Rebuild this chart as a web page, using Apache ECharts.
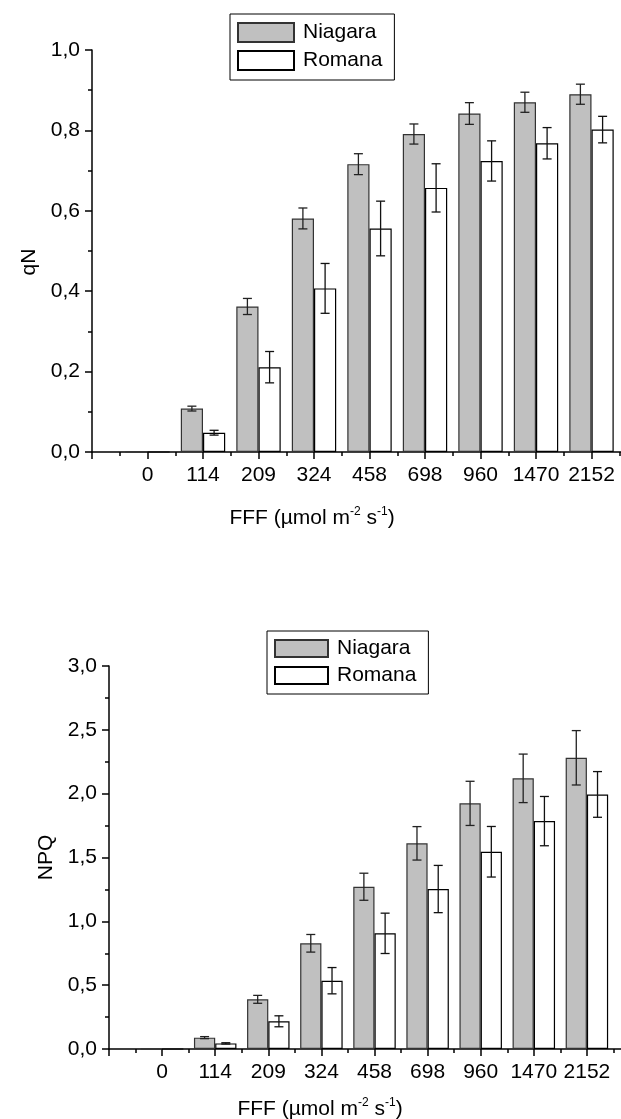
<!DOCTYPE html>
<html><head><meta charset="utf-8">
<script src="https://cdn.jsdelivr.net/npm/echarts@6/dist/echarts.min.js"></script>
<style>html,body{margin:0;padding:0;background:#fff}#c{width:621px;height:1119px}</style>
</head><body><div id="c"></div>
<script>
const categories = ['0','114','209','324','458','698','960','1470','2152'];
const seriesNames = ['Niagara','Romana'];
const qnNiagara    = [0, 0.108, 0.362, 0.581, 0.716, 0.791, 0.842, 0.870, 0.890];
const qnNiagaraErr = [0, 0.006, 0.020, 0.026, 0.026, 0.025, 0.027, 0.025, 0.025];
const qnRomana     = [0, 0.048, 0.211, 0.407, 0.556, 0.657, 0.724, 0.768, 0.802];
const qnRomanaErr  = [0, 0.006, 0.039, 0.062, 0.068, 0.060, 0.050, 0.039, 0.033];
const npqNiagara    = [0, 0.089, 0.389, 0.828, 1.271, 1.611, 1.924, 2.120, 2.281];
const npqNiagaraErr = [0, 0.008, 0.031, 0.069, 0.106, 0.131, 0.173, 0.190, 0.213];
const npqRomana     = [0, 0.044, 0.217, 0.535, 0.906, 1.253, 1.545, 1.785, 1.994];
const npqRomanaErr  = [0, 0.005, 0.043, 0.103, 0.158, 0.185, 0.198, 0.193, 0.179];
const qnAxis = {min: 0, max: 1.0, interval: 0.2};
const npqAxis = {min: 0, max: 3.0, interval: 0.5};
const qnName = 'qN';
const npqName = 'NPQ';

const FONT = 'Liberation Sans, Arial, sans-serif';
const chart = echarts.init(document.getElementById('c'), null, {renderer: 'canvas'});

function xAxisDef(gridIndex, padRight, gap) {
  return {
    type: 'value', gridIndex: gridIndex, min: -1, max: 9, interval: 1,
    name: '{t|FFF (µmol m}{s|-2}{t| s}{s|-1}{t|)}',
    nameLocation: 'middle', nameGap: gap,
    nameTextStyle: {
      padding: [0, padRight, 0, 0],
      rich: {
        t: {fontSize: 21, fontFamily: FONT, color: '#000', lineHeight: 24, verticalAlign: 'bottom'},
        s: {fontSize: 12, fontFamily: FONT, color: '#000', lineHeight: 12, verticalAlign: 'top', padding: [1, 0, 0, 0]}
      }
    },
    axisLine: {show: true, onZero: false, lineStyle: {color: '#000', width: 1.5}},
    axisTick: {show: true, inside: false, length: 7, lineStyle: {color: '#000', width: 1.5}},
    minorTick: {show: true, splitNumber: 2, length: 4, lineStyle: {color: '#000', width: 1.5}},
    splitLine: {show: false}, minorSplitLine: {show: false},
    axisLabel: {
      margin: 13, fontSize: 21, fontFamily: FONT, color: '#000',
      showMinLabel: true, showMaxLabel: true,
      formatter: function (v) {
        return (Number.isInteger(v) && v >= 0 && v < categories.length) ? categories[v] : '';
      }
    }
  };
}
function yAxisDef(gridIndex, ax, name, gap, pad) {
  return {
    type: 'value', gridIndex: gridIndex, min: ax.min, max: ax.max, interval: ax.interval,
    name: name, nameLocation: 'middle', nameGap: gap, nameRotate: 90,
    nameTextStyle: {fontSize: 21, fontFamily: FONT, color: '#000', padding: pad},
    axisLine: {show: true, onZero: false, lineStyle: {color: '#000', width: 1.5}},
    axisTick: {show: true, inside: false, length: 7, lineStyle: {color: '#000', width: 1.5}},
    minorTick: {show: true, splitNumber: 2, length: 4, lineStyle: {color: '#000', width: 1.5}},
    splitLine: {show: false}, minorSplitLine: {show: false},
    axisLabel: {
      margin: 12, fontSize: 21, fontFamily: FONT, color: '#000',
      formatter: function (v) { return v.toFixed(1).replace('.', ','); }
    }
  };
}
function barSeries(name, idx, values, fill, border) {
  return {
    name: name, type: 'bar', xAxisIndex: idx, yAxisIndex: idx,
    data: values.map(function (v, i) { return [i, v]; }),
    barWidth: '40%', barGap: '0%',
    itemStyle: {color: fill, borderColor: border, borderWidth: 1.2},
    z: 2
  };
}
function errSeries(name, idx, values, errs, side, color) {
  return {
    name: name, type: 'custom', xAxisIndex: idx, yAxisIndex: idx,
    data: values.map(function (v, i) { return [i, v, errs[i]]; }),
    encode: {x: 0, y: 1},
    z: 5,
    renderItem: function (params, api) {
      const x = api.value(0), y = api.value(1), e = api.value(2);
      if (!e) return null;
      const band = api.size([1, 0])[0];
      const top = api.coord([x, y + e]);
      const bot = api.coord([x, y - e]);
      const cx = top[0] + side * band * 0.2;
      const cap = 4.5;
      const st = {stroke: color, lineWidth: 1.3};
      return {type: 'group', children: [
        {type: 'line', shape: {x1: cx, y1: top[1], x2: cx, y2: bot[1]}, style: st},
        {type: 'line', shape: {x1: cx - cap, y1: top[1], x2: cx + cap, y2: top[1]}, style: st},
        {type: 'line', shape: {x1: cx - cap, y1: bot[1], x2: cx + cap, y2: bot[1]}, style: st}
      ]};
    }
  };
}
function legendDef(left, top, iw, ih, gap, pad) {
  return {
    data: seriesNames, orient: 'vertical', left: left, top: top,
    itemWidth: iw, itemHeight: ih, itemGap: gap, icon: 'rect',
    borderColor: '#000', borderWidth: 1, padding: pad,
    selectedMode: false,
    textStyle: {fontSize: 21, fontFamily: FONT, color: '#000', padding: [0, 0, 0, 4]}
  };
}

chart.setOption({
  animation: false,
  backgroundColor: '#fff',
  grid: [
    {left: 92, top: 50, width: 555, height: 402, outerBoundsMode: 'none', containLabel: false},
    {left: 109, top: 666, width: 531, height: 383, outerBoundsMode: 'none', containLabel: false}
  ],
  legend: [
    legendDef(230, 14, 56, 19, 7, [8, 12, 9, 7]),
    legendDef(267, 631, 53, 17, 6, [7, 12, 8, 7])
  ],
  xAxis: [xAxisDef(0, 115, 53), xAxisDef(1, 109, 47)],
  yAxis: [
    yAxisDef(0, qnAxis, qnName, 52, [0, 22, 0, 0]),
    yAxisDef(1, npqAxis, npqName, 52, [0, 0, 0, 0])
  ],
  series: [
    barSeries('Niagara', 0, qnNiagara, '#c0c0c0', '#333'),
    barSeries('Romana', 0, qnRomana, '#ffffff', '#000'),
    errSeries('Niagara err', 0, qnNiagara, qnNiagaraErr, -1, '#222'),
    errSeries('Romana err', 0, qnRomana, qnRomanaErr, 1, '#111'),
    barSeries('Niagara', 1, npqNiagara, '#c0c0c0', '#333'),
    barSeries('Romana', 1, npqRomana, '#ffffff', '#000'),
    errSeries('Niagara err', 1, npqNiagara, npqNiagaraErr, -1, '#222'),
    errSeries('Romana err', 1, npqRomana, npqRomanaErr, 1, '#111')
  ]
});
</script></body></html>
